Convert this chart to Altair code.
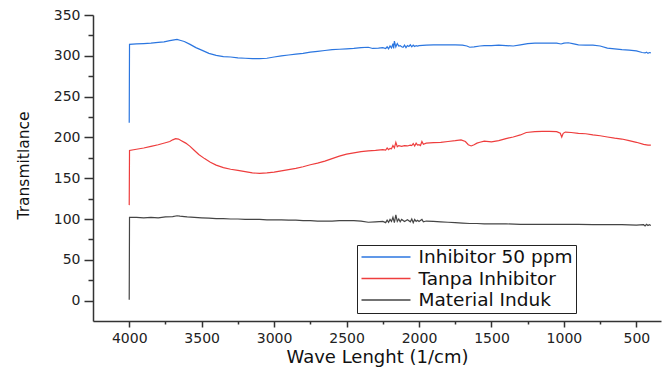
import altair as alt
import pandas as pd

series_names = ["Inhibitor 50 ppm", "Tanpa Inhibitor", "Material Induk"]
series_colors = ["#2b76e0", "#ee3d3d", "#454545"]

blue_wn = [4000, 3998, 3950, 3900, 3850, 3800, 3760, 3720, 3690, 3670, 3650, 3620, 3580, 3540, 3500,
           3450, 3400, 3350, 3300, 3250, 3200, 3150, 3100, 3050, 3000, 2950, 2900, 2850, 2800, 2750,
           2700, 2650, 2600, 2550, 2500, 2450, 2400, 2350, 2320, 2280, 2250, 2230, 2220, 2210, 2200,
           2190, 2180, 2175, 2170, 2160, 2150, 2140, 2130, 2120, 2110, 2100, 2090, 2080, 2070, 2060,
           2050, 2040, 2030, 2020, 2010, 2000, 1950, 1900, 1850, 1800, 1750, 1700, 1670, 1650, 1620,
           1580, 1550, 1500, 1450, 1400, 1350, 1300, 1250, 1200, 1150, 1100, 1050, 1020, 1000, 970,
           940, 900, 850, 800, 750, 700, 650, 600, 550, 500, 460, 440, 430, 420, 410, 400]
blue_val = [218, 314, 314.5, 315, 315.5, 316.5, 317, 318.5, 319.5, 320, 319, 317.5, 314, 310, 307,
            303, 300.5, 299, 298.5, 297.5, 297, 296.5, 296.5, 297, 298.5, 300, 301, 302, 303, 304.5,
            305.5, 306.5, 307.5, 308, 308.5, 309, 310, 310.5, 309, 309.5, 310, 309, 311, 308.5, 312,
            309.5, 315, 309, 318, 311, 315, 312, 312.5, 311, 310.5, 313, 310, 312.5, 311.5, 313.5,
            311, 313, 311.5, 312.5, 312, 312.5, 313, 313.5, 313.5, 313.5, 313.5, 313, 312, 310.5, 311,
            312, 312.5, 312.5, 313, 312.5, 312, 313.5, 315, 315.5, 315.5, 315.5, 315.5, 314.5, 315.5, 316,
            315, 313.5, 313, 313, 312, 309.5, 308.5, 307.5, 307, 306, 304, 303.5, 304.5, 303, 304, 303.5]

red_wn = [4000, 3998, 3950, 3900, 3850, 3800, 3750, 3720, 3700, 3680, 3660, 3640, 3610, 3580, 3550,
          3520, 3480, 3440, 3400, 3350, 3300, 3250, 3200, 3150, 3100, 3050, 3000, 2950, 2900, 2850,
          2800, 2750, 2700, 2650, 2600, 2550, 2500, 2450, 2400, 2350, 2300, 2250, 2230, 2220, 2210,
          2200, 2190, 2180, 2170, 2160, 2150, 2140, 2120, 2100, 2080, 2060, 2050, 2040, 2030, 2020,
          2010, 2000, 1990, 1980, 1970, 1950, 1900, 1850, 1800, 1750, 1710, 1680, 1660, 1640, 1620,
          1600, 1580, 1550, 1500, 1450, 1400, 1350, 1300, 1260, 1200, 1150, 1100, 1050, 1025, 1015,
          1005, 990, 950, 900, 850, 800, 750, 700, 650, 600, 550, 500, 450, 420, 400]
red_val = [117, 184, 185.5, 187, 189, 191, 193.5, 195, 197, 198.5, 198, 196, 193, 189, 184,
           179, 174, 169.5, 166, 163, 161, 159.5, 158, 156.5, 156, 156.5, 157.5, 159, 160.5, 162,
           164, 166.5, 168.5, 171, 174, 177, 179.5, 181, 182.5, 183.5, 184, 185, 184.5, 187, 185,
           186.5, 186, 190, 187, 194, 188.5, 190, 189, 190, 189.5, 190.5, 190, 192.5, 189.5, 193,
           190.5, 191, 190, 195, 191.5, 193, 193.5, 194, 195, 196, 197, 195, 191, 189.5, 191,
           193, 194, 195.5, 194.5, 196, 198.5, 200.5, 203, 206, 207, 207.5, 207.5, 207, 205, 200.5,
           205, 206.5, 206, 205, 204.5, 203, 202, 200.5, 199, 198, 196, 194, 191.5, 190.5, 190.5]

black_wn = [4000, 3998, 3950, 3900, 3850, 3800, 3750, 3700, 3670, 3650, 3620, 3600, 3550, 3500, 3450,
            3400, 3350, 3300, 3250, 3200, 3150, 3100, 3050, 3000, 2950, 2900, 2850, 2800, 2750, 2700,
            2650, 2600, 2550, 2500, 2450, 2400, 2350, 2300, 2250, 2230, 2220, 2210, 2200, 2190, 2180,
            2170, 2160, 2150, 2140, 2130, 2120, 2100, 2080, 2060, 2050, 2040, 2030, 2020, 2010, 2000,
            1980, 1970, 1950, 1900, 1850, 1800, 1750, 1700, 1650, 1600, 1550, 1500, 1400, 1300, 1200,
            1100, 1000, 900, 800, 700, 600, 500, 450, 440, 430, 420, 410, 400]
black_val = [1, 102, 102, 101.5, 102, 101.5, 102.5, 103, 104, 103.5, 103, 102.5, 102, 101.5, 101,
             100.5, 100.5, 100, 100, 99.5, 99.5, 99.5, 99, 99, 99, 98.5, 98.5, 98, 98, 97.5,
             97.5, 97.5, 98, 98, 98, 97.5, 96, 96.5, 97, 95.5, 98.5, 96, 99.5, 97, 102,
             95.5, 105, 97, 100, 96.5, 99.5, 97, 99, 96.5, 100, 95.5, 99.5, 97, 98.5, 97,
             99.5, 96.5, 97.5, 97, 96.5, 96, 95.5, 95, 94.5, 94.5, 94, 94, 94, 93.5, 93.5,
             93.5, 93.5, 93.5, 93, 93, 93, 92.5, 93, 91.5, 93.5, 92, 93, 92]

rows = []
for name, wn, val in [(series_names[0], blue_wn, blue_val),
                      (series_names[1], red_wn, red_val),
                      (series_names[2], black_wn, black_val)]:
    for i, (w, v) in enumerate(zip(wn, val)):
        rows.append({"series": name, "wn": w, "val": v, "idx": i})
df = pd.DataFrame(rows)

x_ticks = list(range(500, 4001, 250))
y_ticks = list(range(0, 351, 25))

chart = alt.Chart(df).mark_line(strokeWidth=1.2).encode(
    x=alt.X("wn:Q",
            scale=alt.Scale(domain=[4250, 330], nice=False, zero=False),
            axis=alt.Axis(title="Wave Lenght (1/cm)", values=x_ticks, format="d",
                          labelExpr="datum.value % 500 === 0 ? datum.label : ''",
                          tickSize={"condition": {"test": "datum.value % 500 === 0", "value": 6}, "value": 3},
                          labelPadding=4, labelOverlap=False, labelFlush=False,
                          titleFontSize=18, titleBaseline="middle", titleY=36)),
    y=alt.Y("val:Q",
            scale=alt.Scale(domain=[-25, 350], nice=False, zero=False),
            axis=alt.Axis(title="Transmitlance", values=y_ticks, format="d",
                          labelExpr="datum.value % 50 === 0 ? datum.label : ''",
                          tickSize={"condition": {"test": "datum.value % 50 === 0", "value": 9}, "value": 5},
                          labelPadding=4, labelOverlap=False, labelFlush=False,
                          titleFontSize=15.5, titleBaseline="middle", titleX=-70, titleY=150)),
    color=alt.Color("series:N",
                    scale=alt.Scale(domain=series_names, range=series_colors),
                    legend=alt.Legend(title=None, orient="none", legendX=264, legendY=230,
                                      symbolType="stroke", symbolSize=2400, symbolStrokeWidth=1.5,
                                      clipHeight=17, rowPadding=2.5, labelFont="DejaVu Sans",
                                      labelFontSize=18.5, labelColor="#111", labelOffset=7, padding=3.5,
                                      strokeColor="#222", fillColor="white")),
    detail="series:N",
    order="idx:Q",
).properties(
    width=568, height=306,
    padding={"left": 93, "top": 15, "right": 2, "bottom": 48},
    autosize="none",
).configure_view(stroke=None).configure_axis(
    grid=False, domainColor="#333", domainWidth=1.5, tickColor="#333", tickWidth=1.5,
    labelFont="DejaVu Sans", labelFontSize=14, labelColor="#222",
    titleFont="DejaVu Sans", titleColor="#111", titleFontWeight="normal",
)

chart.save("out.html", embed_options={"renderer": "svg", "actions": False})
